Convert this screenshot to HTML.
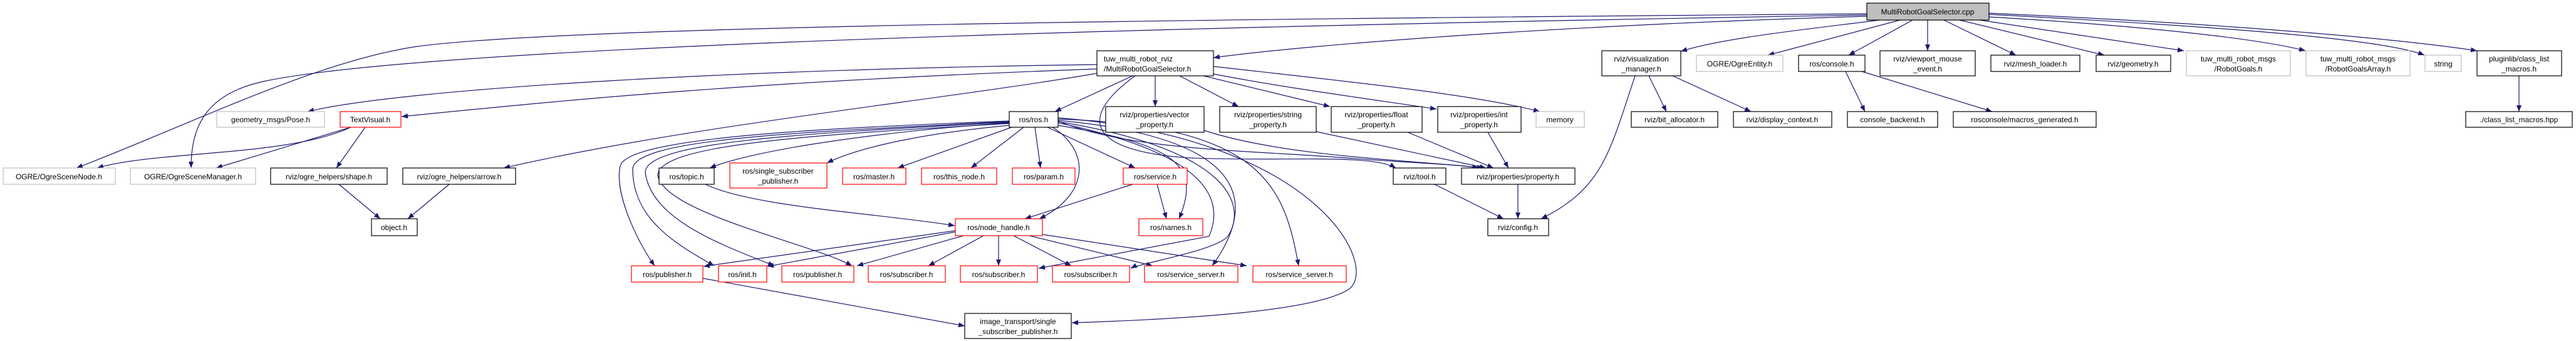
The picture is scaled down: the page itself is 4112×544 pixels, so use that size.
<!DOCTYPE html>
<html><head><meta charset="utf-8"><style>
html,body{margin:0;padding:0;background:#fff;width:4112px;height:544px;overflow:hidden}
svg{display:block}
text{font-family:"Liberation Sans","DejaVu Sans",sans-serif;font-size:12px;fill:#000}
.e{fill:none;stroke:#191970;stroke-width:1.2}
.b{fill:#fff;stroke:#000;stroke-width:1.2}
.r{fill:#fff;stroke:#ff0000;stroke-width:1.2}
.g{fill:#fff;stroke:#bfbfbf;stroke-width:1.2}
</style></head><body>
<svg width="4112" height="544" viewBox="0 0 4112 544" xmlns="http://www.w3.org/2000/svg">
<defs><marker id="a" markerWidth="10" markerHeight="8" refX="10" refY="4" orient="auto" markerUnits="userSpaceOnUse"><path d="M0,0 L10,4 L0,8 z" fill="#191970"/></marker></defs>
<g class="e" marker-end="url(#a)">
<!-- cpp edges -->
<path d="M2980,22 C2000,30 900,40 660,75 C500,100 300,200 122,268"/>
<path d="M2980,24 C2000,40 700,70 420,130 C330,150 305,200 305,268"/>
<path d="M2980,26 C2500,40 2100,70 1937,92"/>
<path d="M3000,32 C2900,45 2750,60 2683,82"/>
<path d="M3033,32 L2822,88"/>
<path d="M3053,32 L2951,88"/>
<path d="M3077,32 L3077,81"/>
<path d="M3103,32 L3218,88"/>
<path d="M3128,32 L3359,88"/>
<path d="M3160,32 L3486,81"/>
<path d="M3175,27 C3400,40 3600,60 3680,81"/>
<path d="M3175,23 C3500,40 3800,60 3870,88"/>
<path d="M3175,21 C3600,40 3850,65 3954,81"/>
<!-- tuw edges -->
<path d="M1751,103 C1200,110 650,140 491,178"/>
<path d="M1751,110 C1200,130 900,160 641,186"/>
<path d="M1751,117 C1500,160 1100,200 804,268"/>
<path d="M1808,121 L1684,178"/>
<path d="M1844,121 L1844,170"/>
<path d="M1883,121 L1977,170"/>
<path d="M1921,121 L2123,170"/>
<path d="M1937,118 C2050,140 2200,160 2293,174"/>
<path d="M1937,106 C2150,130 2350,150 2458,178"/>
<path d="M1812,121 C1730,180 1720,240 1900,252 C2050,258 2190,245 2228,268"/>
<!-- ros.h edges -->
<path d="M1611,196 C1400,210 1200,240 1133,268"/>
<path d="M1611,200 C1450,215 1360,240 1320,260"/>
<path d="M1615,203 L1433,268"/>
<path d="M1634,203 L1550,268"/>
<path d="M1652,203 L1661,268"/>
<path d="M1672,203 L1812,268"/>
<path d="M1680,203 C1740,240 1740,310 1659,349"/>
<path d="M1689,200 C1870,230 1920,260 1882,349"/>
<path d="M1611,193 C1300,205 1000,220 990,265 C980,310 1020,390 1045,424"/>
<path d="M1611,194 C1300,210 1010,220 1010,270 C1010,350 1080,390 1140,424"/>
<path d="M1611,195 C1300,212 1030,225 1030,275 C1040,350 1150,390 1236,424"/>
<path d="M1611,197 C1300,215 1050,230 1050,280 C1060,340 1300,390 1360,424"/>
<path d="M1689,196 C1950,250 1950,330 1930,377 L1658,428"/>
<path d="M1689,194 C1970,240 1990,330 1960,377 C1940,400 1820,420 1805,428"/>
<path d="M1689,192 C1990,220 2010,320 1935,424"/>
<path d="M1689,190 C2020,200 2050,300 2073,424"/>
<path d="M1689,188 C2100,220 2200,420 2155,460 C2100,500 1850,510 1711,515"/>
<path d="M1689,193 C1800,240 2000,240 2150,252 C2280,262 2330,262 2360,268"/>
<!-- others -->
<path d="M2632,121 L2660,178"/>
<path d="M2670,121 L2795,178"/>
<path d="M2610,121 C2570,240 2560,300 2460,349"/>
<path d="M2946,114 L2977,178"/>
<path d="M2972,114 L3180,178"/>
<path d="M4021,121 L4021,178"/>
<path d="M560,203 C460,250 250,240 155,268"/>
<path d="M560,203 L345,268"/>
<path d="M583,203 L537,268"/>
<path d="M541,294 L607,349"/>
<path d="M717,294 L651,349"/>
<path d="M1922,208 C2050,250 2250,255 2368,268"/>
<path d="M2101,210 L2372,268"/>
<path d="M2247,211 L2384,268"/>
<path d="M2375,211 L2408,268"/>
<path d="M2423,294 L2423,349"/>
<path d="M2290,294 L2400,349"/>
<path d="M1126,294 C1200,330 1400,340 1524,360"/>
<path d="M1808,294 L1636,349"/>
<path d="M1847,294 L1862,349"/>
<path d="M1525,368 L1123,425"/>
<path d="M1525,370 L1225,425"/>
<path d="M1538,376 L1368,424"/>
<path d="M1570,376 L1482,424"/>
<path d="M1594,376 L1594,424"/>
<path d="M1618,376 L1710,424"/>
<path d="M1643,376 L1840,424"/>
<path d="M1664,374 L1990,424"/>
<path d="M1122,444 L1540,520"/>
</g>
<!-- nodes -->
<rect x="2980" y="5" width="195" height="27" fill="#bfbfbf" stroke="#000" stroke-width="1.2"/><text x="3077" y="23" text-anchor="middle">MultiRobotGoalSelector.cpp</text>
<rect class="b" x="1751" y="81" width="186" height="40"/><text x="1762" y="98">tuw_multi_robot_rviz</text><text x="1762" y="114">/MultiRobotGoalSelector.h</text>
<rect class="b" x="2557" y="81" width="126" height="40"/><text x="2620" y="98" text-anchor="middle">rviz/visualization</text><text x="2620" y="114" text-anchor="middle">_manager.h</text>
<rect class="g" x="2708" y="88" width="138" height="26"/><text x="2777" y="106" text-anchor="middle">OGRE/OgreEntity.h</text>
<rect class="b" x="2871" y="88" width="106" height="26"/><text x="2924" y="106" text-anchor="middle">ros/console.h</text>
<rect class="b" x="3001" y="81" width="152" height="40"/><text x="3077" y="98" text-anchor="middle">rviz/viewport_mouse</text><text x="3077" y="114" text-anchor="middle">_event.h</text>
<rect class="b" x="3178" y="88" width="142" height="26"/><text x="3249" y="106" text-anchor="middle">rviz/mesh_loader.h</text>
<rect class="b" x="3346" y="88" width="119" height="26"/><text x="3405" y="106" text-anchor="middle">rviz/geometry.h</text>
<rect class="g" x="3490" y="81" width="166" height="40"/><text x="3573" y="98" text-anchor="middle">tuw_multi_robot_msgs</text><text x="3573" y="114" text-anchor="middle">/RobotGoals.h</text>
<rect class="g" x="3681" y="81" width="166" height="40"/><text x="3764" y="98" text-anchor="middle">tuw_multi_robot_msgs</text><text x="3764" y="114" text-anchor="middle">/RobotGoalsArray.h</text>
<rect class="g" x="3871" y="88" width="58" height="26"/><text x="3900" y="106" text-anchor="middle">string</text>
<rect class="b" x="3954" y="81" width="135" height="40"/><text x="4021" y="98" text-anchor="middle">pluginlib/class_list</text><text x="4021" y="114" text-anchor="middle">_macros.h</text>

<rect class="g" x="346" y="178" width="172" height="25"/><text x="432" y="195" text-anchor="middle">geometry_msgs/Pose.h</text>
<rect class="r" x="543" y="178" width="97" height="25"/><text x="591" y="195" text-anchor="middle">TextVisual.h</text>
<rect class="b" x="1611" y="178" width="78" height="25"/><text x="1650" y="195" text-anchor="middle">ros/ros.h</text>
<rect class="b" x="1765" y="170" width="157" height="41"/><text x="1843" y="187" text-anchor="middle">rviz/properties/vector</text><text x="1843" y="203" text-anchor="middle">_property.h</text>
<rect class="b" x="1947" y="170" width="154" height="41"/><text x="2024" y="187" text-anchor="middle">rviz/properties/string</text><text x="2024" y="203" text-anchor="middle">_property.h</text>
<rect class="b" x="2125" y="170" width="145" height="41"/><text x="2197" y="187" text-anchor="middle">rviz/properties/float</text><text x="2197" y="203" text-anchor="middle">_property.h</text>
<rect class="b" x="2295" y="170" width="133" height="41"/><text x="2361" y="187" text-anchor="middle">rviz/properties/int</text><text x="2361" y="203" text-anchor="middle">_property.h</text>
<rect class="g" x="2452" y="178" width="77" height="25"/><text x="2490" y="195" text-anchor="middle">memory</text>
<rect class="b" x="2604" y="178" width="138" height="25"/><text x="2673" y="195" text-anchor="middle">rviz/bit_allocator.h</text>
<rect class="b" x="2767" y="178" width="157" height="25"/><text x="2845" y="195" text-anchor="middle">rviz/display_context.h</text>
<rect class="b" x="2949" y="178" width="144" height="25"/><text x="3021" y="195" text-anchor="middle">console_backend.h</text>
<rect class="b" x="3118" y="178" width="228" height="25"/><text x="3232" y="195" text-anchor="middle">rosconsole/macros_generated.h</text>
<rect class="b" x="3936" y="178" width="170" height="25"/><text x="4021" y="195" text-anchor="middle">./class_list_macros.hpp</text>

<rect class="g" x="5" y="268" width="179" height="26"/><text x="94" y="286" text-anchor="middle">OGRE/OgreSceneNode.h</text>
<rect class="g" x="208" y="268" width="200" height="26"/><text x="308" y="286" text-anchor="middle">OGRE/OgreSceneManager.h</text>
<rect class="b" x="432" y="268" width="186" height="26"/><text x="525" y="286" text-anchor="middle">rviz/ogre_helpers/shape.h</text>
<rect class="b" x="643" y="268" width="180" height="26"/><text x="733" y="286" text-anchor="middle">rviz/ogre_helpers/arrow.h</text>
<rect class="b" x="1052" y="268" width="88" height="26"/><text x="1096" y="286" text-anchor="middle">ros/topic.h</text>
<rect class="r" x="1165" y="260" width="155" height="40"/><text x="1242" y="277" text-anchor="middle">ros/single_subscriber</text><text x="1242" y="293" text-anchor="middle">_publisher.h</text>
<rect class="r" x="1345" y="268" width="101" height="26"/><text x="1395" y="286" text-anchor="middle">ros/master.h</text>
<rect class="r" x="1471" y="268" width="120" height="26"/><text x="1531" y="286" text-anchor="middle">ros/this_node.h</text>
<rect class="r" x="1616" y="268" width="100" height="26"/><text x="1666" y="286" text-anchor="middle">ros/param.h</text>
<rect class="r" x="1793" y="268" width="102" height="26"/><text x="1844" y="286" text-anchor="middle">ros/service.h</text>
<rect class="b" x="2224" y="268" width="84" height="26"/><text x="2266" y="286" text-anchor="middle">rviz/tool.h</text>
<rect class="b" x="2333" y="268" width="181" height="26"/><text x="2423" y="286" text-anchor="middle">rviz/properties/property.h</text>

<rect class="b" x="593" y="349" width="73" height="27"/><text x="629" y="367" text-anchor="middle">object.h</text>
<rect class="r" x="1525" y="349" width="139" height="27"/><text x="1594" y="367" text-anchor="middle">ros/node_handle.h</text>
<rect class="r" x="1818" y="349" width="102" height="27"/><text x="1869" y="367" text-anchor="middle">ros/names.h</text>
<rect class="b" x="2375" y="349" width="97" height="27"/><text x="2423" y="367" text-anchor="middle">rviz/config.h</text>

<rect class="r" x="1008" y="424" width="114" height="26"/><text x="1065" y="442" text-anchor="middle">ros/publisher.h</text>
<rect class="r" x="1147" y="424" width="77" height="26"/><text x="1185" y="442" text-anchor="middle">ros/init.h</text>
<rect class="r" x="1248" y="424" width="115" height="26"/><text x="1305" y="442" text-anchor="middle">ros/publisher.h</text>
<rect class="r" x="1386" y="424" width="123" height="26"/><text x="1447" y="442" text-anchor="middle">ros/subscriber.h</text>
<rect class="r" x="1533" y="424" width="123" height="26"/><text x="1594" y="442" text-anchor="middle">ros/subscriber.h</text>
<rect class="r" x="1680" y="424" width="123" height="26"/><text x="1741" y="442" text-anchor="middle">ros/subscriber.h</text>
<rect class="r" x="1827" y="424" width="149" height="26"/><text x="1901" y="442" text-anchor="middle">ros/service_server.h</text>
<rect class="r" x="2000" y="424" width="149" height="26"/><text x="2074" y="442" text-anchor="middle">ros/service_server.h</text>
<rect class="b" x="1540" y="500" width="170" height="40"/><text x="1625" y="517" text-anchor="middle">image_transport/single</text><text x="1625" y="533" text-anchor="middle">_subscriber_publisher.h</text>
</svg>
</body></html>
